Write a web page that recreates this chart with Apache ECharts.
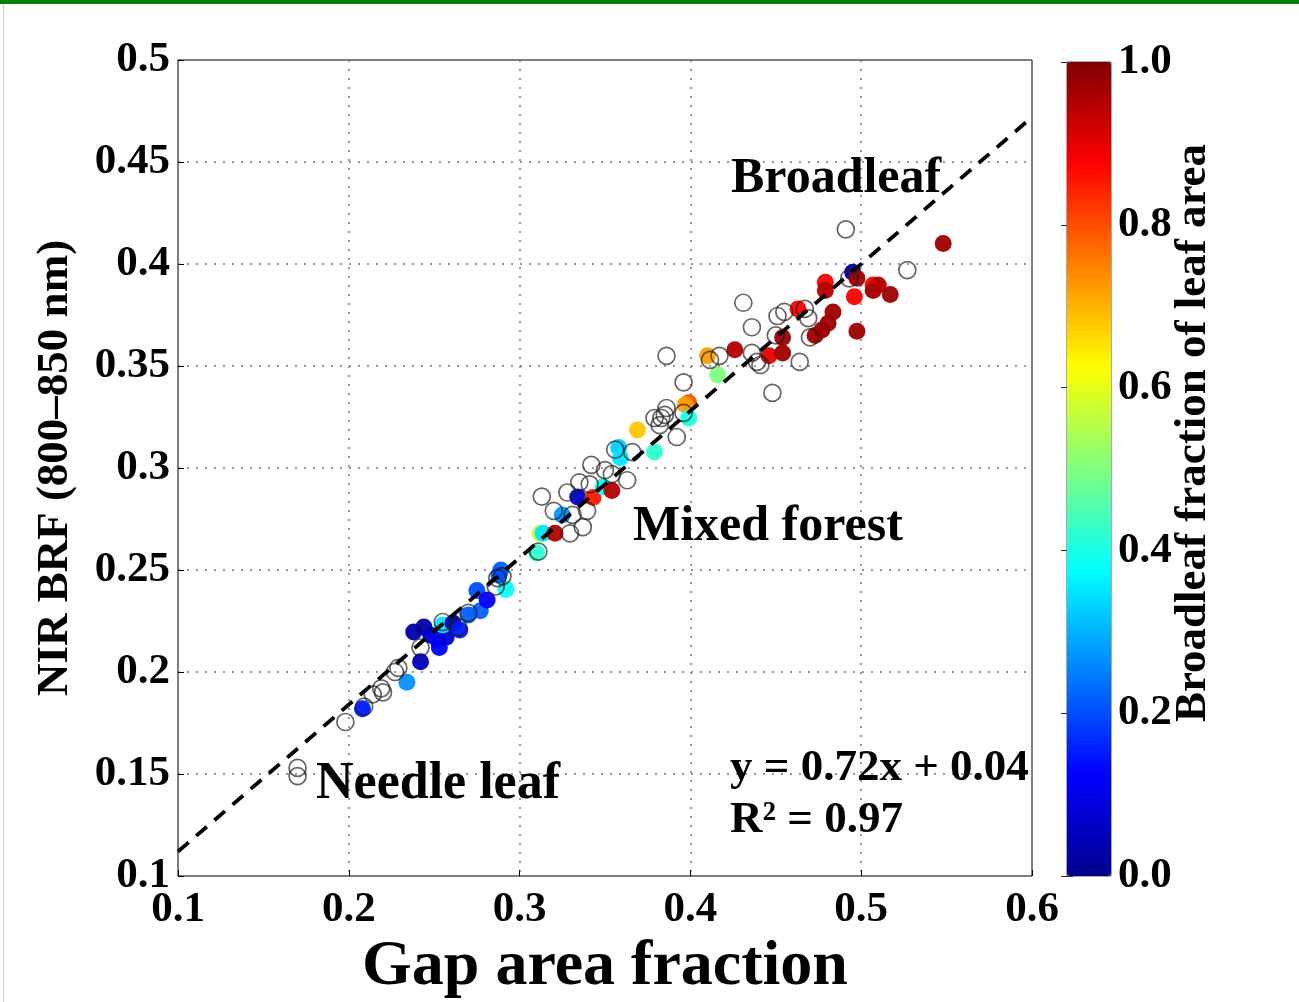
<!DOCTYPE html>
<html>
<head>
<meta charset="utf-8">
<script src="https://cdn.jsdelivr.net/npm/echarts@6/dist/echarts.min.js"></script>
<style>
html,body{margin:0;padding:0;background:#fff;}
#chart{width:1299px;height:1002px;}
</style>
</head>
<body>
<div id="chart"></div>
<script>
// ---- Data ----
// Axis ticks
var xTicks = [0.1, 0.2, 0.3, 0.4, 0.5, 0.6];
var yTicks = [0.1, 0.15, 0.2, 0.25, 0.3, 0.35, 0.4, 0.45, 0.5];
var cbTicks = [0.0, 0.2, 0.4, 0.6, 0.8, 1.0];

// Open circles (no broadleaf fraction)
var openX = [0.170,0.170,0.198,0.209,0.214,0.219,0.220,0.227,0.229,0.242,0.255,0.264,0.270,0.287,0.290,0.286,
             0.311,0.313,0.320,0.328,0.335,0.341,0.342,0.350,0.354,0.363,0.356,0.331,0.337,0.3295,0.3395,
             0.386,0.396,0.386,0.383,0.379,0.385,0.382,0.392,0.396,0.366,0.417,0.4115,
             0.431,0.436,0.451,0.455,0.450,0.470,0.469,0.467,0.436,0.441,0.439,0.464,0.448,
             0.491,0.527,0.493];
var openY = [0.153,0.149,0.1755,0.183,0.189,0.192,0.190,0.200,0.202,0.212,0.2245,0.222,0.229,0.246,0.247,0.242,
             0.259,0.286,0.279,0.288,0.293,0.292,0.3015,0.299,0.297,0.294,0.309,0.277,0.271,0.268,0.279,
             0.355,0.342,0.3294,0.3245,0.3245,0.326,0.321,0.3152,0.327,0.3078,0.355,0.353,
             0.381,0.369,0.3745,0.3765,0.365,0.364,0.3735,0.378,0.3564,0.3505,0.352,0.352,0.3368,
             0.417,0.397,0.393];

// Filled circles: x, y and broadleaf fraction of leaf area
var fillX = [0.208,0.234,0.242,0.238,0.244,0.248,0.252,0.253,0.257,0.255,0.261,0.265,0.270,0.277,0.275,0.281,0.289,0.292,0.288,
             0.310,0.312,0.3137,0.3207,0.325,0.334,0.343,0.349,0.354,0.358,0.359,0.369,0.379,
             0.399,0.397,0.399,0.410,0.416,0.426,0.446,0.454,0.454,0.463,
             0.479,0.479,0.4835,0.4806,0.477,0.473,0.495,0.4975,0.496,0.4975,0.507,0.507,0.510,0.517,0.548];
var fillY = [0.182,0.195,0.205,0.2196,0.222,0.218,0.2157,0.212,0.217,0.223,0.224,0.2206,0.228,0.230,0.240,0.2353,0.250,0.2405,0.2475,
             0.2583,0.268,0.268,0.268,0.277,0.2858,0.2855,0.2907,0.289,0.310,0.305,0.3186,0.3078,
             0.332,0.331,0.3245,0.355,0.3456,0.358,0.355,0.3564,0.364,0.378,
             0.391,0.387,0.3765,0.371,0.3676,0.365,0.396,0.393,0.384,0.367,0.3897,0.387,0.3897,0.385,0.410];
var fillV = [0.15,0.27,0.05,0.03,0.02,0.06,0.12,0.12,0.08,0.35,0.04,0.15,0.22,0.22,0.20,0.12,0.22,0.38,0.20,
             0.42,0.58,0.35,0.95,0.27,0.07,0.85,0.38,0.95,0.33,0.35,0.68,0.42,
             0.80,0.72,0.40,0.72,0.50,0.95,0.90,0.97,0.97,0.88,
             0.88,0.95,0.97,0.97,0.97,0.97,0.02,0.97,0.88,0.97,0.88,0.97,0.95,0.97,0.97];

// Regression line y = 0.72x + 0.04 (end points)
var fitX = [0.1, 0.6];
var fitY = [0.112, 0.472];

var jet = ['#00008f','#0000ff','#0080ff','#00ffff','#80ff80','#ffff00','#ff8000','#ff0000','#800000'];

var openData = openX.map(function(x,i){return [x, openY[i]];});
var fillData = fillX.map(function(x,i){return [x, fillY[i], fillV[i]];});
var fitData = fitX.map(function(x,i){return [x, fitY[i]];});

var FONT = '"Liberation Serif", "Times New Roman", serif';
function fmt(v, d){ return v.toFixed(d); }

var chart = echarts.init(document.getElementById('chart'), null, {renderer:'canvas'});
var option = {
  backgroundColor: '#ffffff',
  animation: false,
  textStyle: {fontFamily: FONT},
  grid: [
    {left:178, top:60, width:854, height:816, show:true, borderColor:'#000', borderWidth:1, backgroundColor:'transparent',
     containLabel:false, outerBoundsMode:'none'},
    {left:1067, top:62, width:44, height:814, show:true, borderColor:'#555', borderWidth:1, backgroundColor:'transparent',
     containLabel:false, outerBoundsMode:'none'}
  ],
  xAxis: [
    {gridIndex:0, type:'value', min:0.1, max:0.6, interval:0.1,
     axisLine:{show:false}, axisTick:{show:true, inside:true, length:6, lineStyle:{color:'#000'}},
     axisLabel:{color:'#000', fontFamily:FONT, fontWeight:'bold', fontSize:43, margin:12, formatter:function(v){return fmt(v,1);}},
     splitLine:{show:true, lineStyle:{color:'#777', type:[2,7], width:1.5}},
     name:'Gap area fraction', nameLocation:'middle', nameGap:58,
     nameTextStyle:{color:'#000', fontFamily:FONT, fontWeight:'bold', fontSize:64}},
    {gridIndex:1, type:'value', min:0, max:1, show:false}
  ],
  yAxis: [
    {gridIndex:0, type:'value', min:0.1, max:0.5, interval:0.05,
     axisLine:{show:false}, axisTick:{show:true, inside:true, length:6, lineStyle:{color:'#000'}},
     axisLabel:{color:'#000', fontFamily:FONT, fontWeight:'bold', fontSize:43, margin:8,
       formatter:function(v){ var s = (Math.round(v*100)/100).toString(); return s; }},
     splitLine:{show:true, lineStyle:{color:'#777', type:[2,7], width:1.5}},
     name:'NIR BRF (800–850 nm)', nameLocation:'middle', nameGap:100, nameRotate:90,
     nameTextStyle:{color:'#000', fontFamily:FONT, fontWeight:'bold', fontSize:45}},
    {gridIndex:1, type:'value', min:0, max:1, interval:0.2, position:'right',
     axisLine:{show:false}, axisTick:{show:true, inside:true, length:6, lineStyle:{color:'#333'}},
     axisLabel:{color:'#000', fontFamily:FONT, fontWeight:'bold', fontSize:43, margin:7, formatter:function(v){return fmt(v,1);}},
     splitLine:{show:false}},
    {gridIndex:1, type:'value', min:0, max:1, interval:0.2, position:'left',
     axisLine:{show:false}, axisTick:{show:true, inside:true, length:6, lineStyle:{color:'#333'}},
     axisLabel:{show:false}, splitLine:{show:false}}
  ],
  visualMap: {
    type:'continuous', min:0, max:1, dimension:2, seriesIndex:0,
    calculable:false, realtime:false, hoverLink:false,
    left:1067, top:62, itemWidth:44, itemHeight:814, padding:0,
    inRange:{color: jet}, text:null, showLabel:false
  },
  series: [
    {type:'scatter', xAxisIndex:0, yAxisIndex:0, data:fillData, symbol:'circle', symbolSize:17, z:2,
     itemStyle:{opacity:0.95}},
    {type:'scatter', xAxisIndex:0, yAxisIndex:0, data:openData, symbol:'circle', symbolSize:17, z:3,
     itemStyle:{color:'rgba(255,255,255,0)', borderColor:'rgba(30,30,30,0.85)', borderWidth:1.7}},
    {type:'line', xAxisIndex:0, yAxisIndex:0, data:fitData, symbol:'none', z:4,
     lineStyle:{color:'#000', width:3.8, type:[14,10]}}
  ],
  graphic: [
    {type:'rect', left:0, top:0, shape:{width:1299, height:4}, style:{fill:'#0a7d0a'}, z:10},
    {type:'rect', left:3, top:4, shape:{width:1, height:998}, style:{fill:'#d0d0d0'}, z:10},
    {type:'text', left:731, top:154, style:{text:'Broadleaf', font:'bold 50px ' + FONT, fill:'#000'}, z:10},
    {type:'text', left:633, top:502, style:{text:'Mixed forest', font:'bold 50px ' + FONT, fill:'#000'}, z:10},
    {type:'text', left:316, top:759, style:{text:'Needle leaf', font:'bold 52px ' + FONT, fill:'#000'}, z:10},
    {type:'text', left:730, top:746, style:{text:'y = 0.72x + 0.04', font:'bold 45px ' + FONT, fill:'#000'}, z:10},
    {type:'text', left:730, top:798, style:{text:'R² = 0.97', font:'bold 45px ' + FONT, fill:'#000'}, z:10},
    {type:'text', x:1193, y:433, rotation:Math.PI/2,
     style:{text:'Broadleaf fraction of leaf area', font:'bold 45px ' + FONT, fill:'#000',
            align:'center', verticalAlign:'middle', textAlign:'center', textVerticalAlign:'middle'}, z:10}
  ]
};
chart.setOption(option);
</script>
</body>
</html>
